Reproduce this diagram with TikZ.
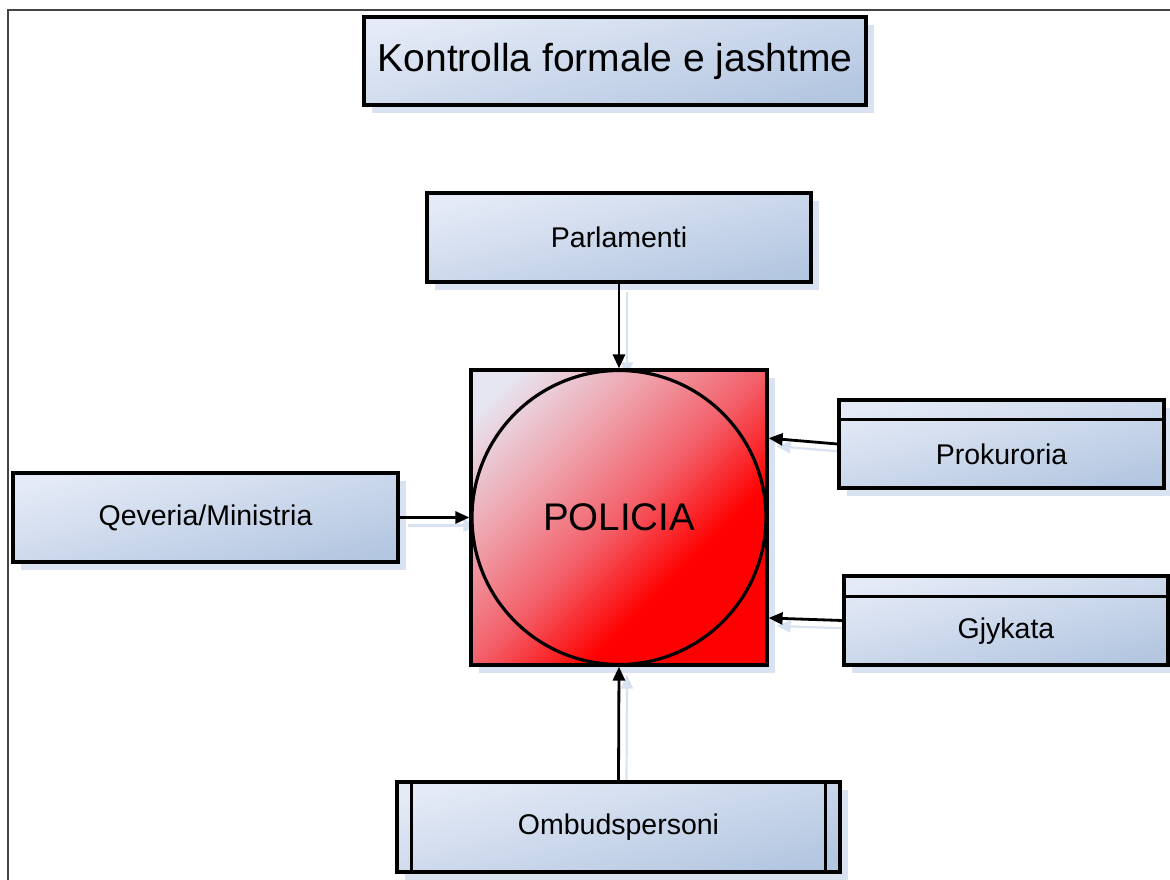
\documentclass[tikz,border=0pt]{standalone}
\usepackage{fontspec}
\setmainfont{Liberation Sans}
\usetikzlibrary{arrows.meta,shadows,calc}
\definecolor{boxlight}{HTML}{E4EAF6}
\definecolor{boxdark}{HTML}{B4C7E1}
\definecolor{shadowc}{HTML}{D8E2F0}
\definecolor{framec}{HTML}{454545}
\definecolor{rlight}{HTML}{E6E6F2}
\definecolor{rpink}{HTML}{EFA2AC}
\definecolor{rmid}{HTML}{F2606A}
\pgfdeclareverticalshading{redshade}{100bp}{color(0bp)=(red); color(36bp)=(red); color(50bp)=(rmid); color(64bp)=(rpink); color(80bp)=(rlight); color(100bp)=(rlight)}
\pgfdeclarelayer{background}
\pgfsetlayers{background,main}
\begin{document}
\begin{tikzpicture}[x=1pt,y=-1pt,
  box/.style={draw=black, line width=3.2pt, top color=boxlight, bottom color=boxdark, shading angle=14,
    drop shadow={shadow xshift=8pt, shadow yshift=-8pt, fill=shadowc, opacity=1},
    inner sep=0pt, font=\fontsize{28.5}{30}\selectfont},
  lbl/.style={font=\fontsize{28.5}{30}\selectfont, inner sep=0pt},
  divider/.style={line width=3.2pt},
  arr/.style={line width=2.8pt, -{Triangle[length=14pt,width=12pt]}},
  sarr/.style={line width=2.2pt, draw=shadowc, -{Triangle[length=14pt,width=12pt]}, shadowc}
]
\useasboundingbox (0,0) rectangle (1170,880);
\draw[framec, line width=2pt] (7.5,880) -- (7.5,10.5) -- (1170,10.5);

\node[box, minimum width=502pt, minimum height=88pt, font=\fontsize{39}{41}\selectfont] (title) at (615,61) {Kontrolla formale e jashtme};

\node[box, minimum width=384pt, minimum height=89pt] (parl) at (619,237.5) {Parlamenti};
\node[box, minimum width=385pt, minimum height=89pt] (qev) at (205.5,517.5) {Qeveria/Ministria};
\node[box, minimum width=325pt, minimum height=88pt, label={[lbl, yshift=-10.5pt]center:Prokuroria}] (prok) at (1001.5,444) {};
\draw[divider] ([yshift=-21pt]prok.north west) -- ([yshift=-21pt]prok.north east);
\node[box, minimum width=324pt, minimum height=89pt, label={[lbl, yshift=-11pt]center:Gjykata}] (gjy) at (1006,620.5) {};
\draw[divider] ([yshift=-22pt]gjy.north west) -- ([yshift=-22pt]gjy.north east);
\node[box, minimum width=443pt, minimum height=90pt] (omb) at (618.5,827) {Ombudspersoni};
\draw[divider] ([xshift=16pt]omb.north west) -- ([xshift=16pt]omb.south west);
\draw[divider] ([xshift=-16pt]omb.north east) -- ([xshift=-16pt]omb.south east);

\node[draw=black, line width=3.2pt, shading=redshade, shading angle=45,
  drop shadow={shadow xshift=8pt, shadow yshift=-8pt, fill=shadowc, opacity=1},
  minimum width=296pt, minimum height=295pt, inner sep=0pt] (sq) at (619,517.5) {};
\node[circle, draw=black, line width=3.2pt, shading=redshade, shading angle=45,
  minimum size=294pt, inner sep=0pt, font=\fontsize{38.5}{40}\selectfont] (pol) at (619,517.5) {POLICIA};

\coordinate (pin) at ($(sq.north east)!0.234!(sq.south east)$);
\coordinate (gin) at ($(sq.north east)!0.837!(sq.south east)$);

\begin{pgfonlayer}{background}
\draw[sarr] ([shift={(8,8)}]parl.south) -- ([shift={(8,8)}]sq.north);
\draw[sarr] ([shift={(8,8)}]qev.east) -- ([shift={(8,8)}]sq.west);
\draw[sarr] ([shift={(8,8)}]prok.west) -- ([shift={(8,8)}]pin);
\draw[sarr] ([shift={(8,8)}]gjy.west) -- ([shift={(8,8)}]gin);
\draw[sarr] ([shift={(8,8)}]omb.north) -- ([shift={(8,8)}]sq.south);
\end{pgfonlayer}

\draw[arr] (parl.south) -- (sq.north);
\draw[arr] (qev.east) -- (sq.west);
\draw[arr] (prok.west) -- (pin);
\draw[arr] (gjy.west) -- (gin);
\draw[arr] (omb.north) -- (sq.south);
\end{tikzpicture}
\end{document}
